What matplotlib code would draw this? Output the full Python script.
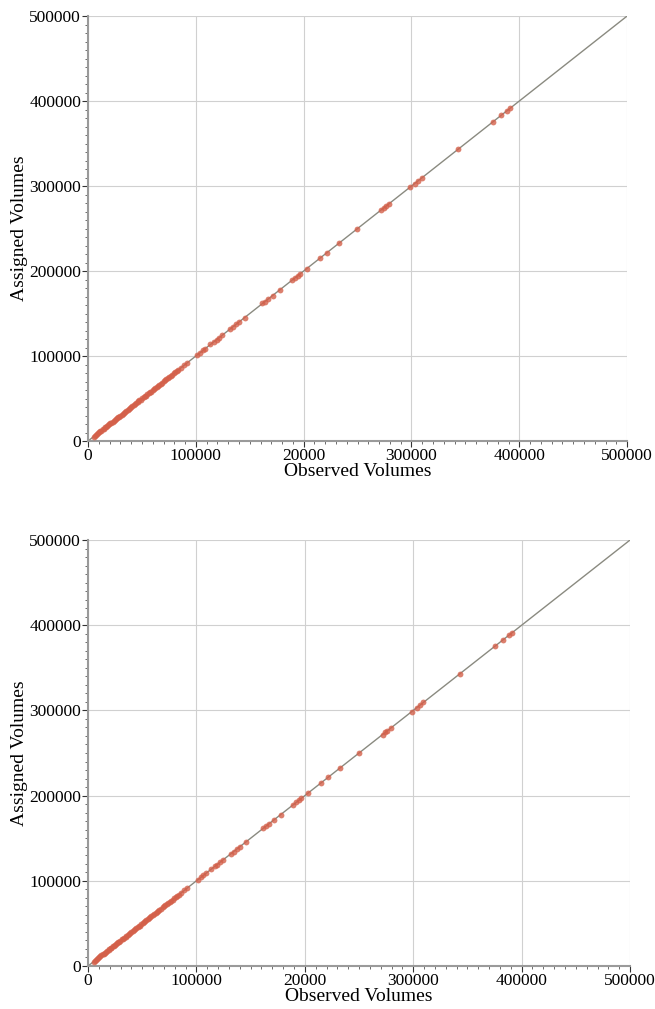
import matplotlib
matplotlib.use("Agg")
import matplotlib.pyplot as plt
from matplotlib.ticker import MultipleLocator

plt.rcParams["font.family"] = ["Liberation Serif", "DejaVu Serif"]

# observed link volumes (shared by both panels)
observed = [
    5200, 6100, 7400, 8300, 9100, 10200, 11500, 12300, 13800, 14600,
    15900, 16800, 17500, 18900, 19700, 20800, 21600, 22900, 23700, 24800,
    25500, 26900, 27800, 28600, 29900, 31200, 32100, 33400, 34600, 35300,
    36800, 37900, 38700, 39800, 41200, 42500, 43300, 44700, 45900, 46800,
    47600, 48900, 50300, 51700, 52800, 53600, 54900, 56200, 57400, 58300,
    59800, 61100, 62400, 63800, 64700, 65900, 67300, 68800, 70100, 71400,
    72600, 73900, 75200, 76800, 78100, 79600, 80900, 82300, 83700, 86200,
    88900, 91500, 101200, 103800, 106500, 108900, 113400, 116800, 119200, 121700,
    124300, 131800, 134200, 137600, 139900, 145300, 161800, 164200, 166900, 171300,
    177800, 189400, 192100, 194600, 196800, 202900, 214800, 221700, 232400, 249800,
    271800, 274300, 276100, 279200, 298400, 303100, 306200, 309400, 343200, 375600,
    382800, 388700, 391200,
]

# assigned volumes, first scenario
assigned_a = [
    5300, 6000, 7500, 8200, 9200, 10100, 11600, 12200, 13900, 14500,
    16000, 16700, 17600, 18800, 19800, 20700, 21700, 22800, 23800, 24700,
    25600, 26800, 27900, 28500, 30000, 31100, 32200, 33300, 34700, 35200,
    36900, 37800, 38800, 39700, 41300, 42400, 43400, 44600, 46000, 46700,
    47700, 48800, 50400, 51600, 52900, 53500, 55000, 56100, 57500, 58200,
    59900, 61000, 62500, 63700, 64800, 65800, 67400, 68700, 70200, 71300,
    72700, 73800, 75300, 76700, 78200, 79500, 81000, 82200, 83800, 86100,
    89000, 91400, 101400, 103600, 106700, 108700, 113600, 116600, 119400, 121500,
    124500, 131600, 134400, 137400, 140100, 145100, 162000, 164000, 167100, 171100,
    178000, 189200, 192300, 194400, 197000, 202700, 215000, 221500, 232600, 249600,
    272000, 274100, 276300, 279000, 298600, 302900, 306400, 309200, 343400, 375400,
    383000, 388500, 391400,
]

# assigned volumes, second scenario
assigned_b = [
    5250, 6150, 7350, 8350, 9050, 10250, 11450, 12350, 13750, 14650,
    15850, 16850, 17450, 18950, 19650, 20850, 21550, 22950, 23650, 24850,
    25450, 26950, 27750, 28650, 29850, 31250, 32050, 33450, 34550, 35350,
    36750, 37950, 38650, 39850, 41150, 42550, 43250, 44750, 45850, 46850,
    47550, 48950, 50250, 51750, 52750, 53650, 54850, 56250, 57350, 58350,
    59750, 61150, 62350, 63850, 64650, 65950, 67250, 68850, 70050, 71450,
    72550, 73950, 75150, 76850, 78050, 79650, 80850, 82350, 83650, 86250,
    88850, 91550, 101100, 103900, 106400, 109000, 113300, 116900, 119100, 121800,
    124200, 131900, 134100, 137700, 139800, 145400, 161700, 164300, 166800, 171400,
    177700, 189500, 192000, 194700, 196700, 203000, 214700, 221800, 232300, 249900,
    271700, 274400, 276000, 279300, 298300, 303200, 306100, 309500, 343100, 375700,
    382700, 388800, 391100,
]

ticks = [0, 100000, 200000, 300000, 400000, 500000]
xtick_labels = ["0", "100000", "20000", "300000", "400000", "500000"]
ytick_labels = ["0", "100000", "200000", "300000", "400000", "500000"]

fig = plt.figure(figsize=(6.55, 10.09), dpi=100)
boxes = [[0.1344, 0.5629, 0.823, 0.4212], [0.1344, 0.0426, 0.8275, 0.4222]]

for box, assigned in zip(boxes, [assigned_a, assigned_b]):
    ax = fig.add_axes(box)
    ax.plot([0, 500000], [0, 500000], color="#8a8a80", lw=1.0, zorder=2)
    ax.plot(observed, assigned, "o", color="#d4604a", ms=4.2, mew=0,
            alpha=0.8, zorder=3)
    ax.set_xlim(0, 500000)
    ax.set_ylim(0, 500000)
    ax.set_xticks(ticks)
    ax.set_xticklabels(xtick_labels)
    ax.set_yticks(ticks)
    ax.set_yticklabels(ytick_labels)
    ax.xaxis.set_minor_locator(MultipleLocator(10000))
    ax.yaxis.set_minor_locator(MultipleLocator(10000))
    ax.tick_params(which="major", length=4, width=0.8, color="#333333",
                   labelsize=12.5, pad=1)
    ax.tick_params(which="minor", length=2.5, width=0.6, color="#555555")
    ax.grid(True, which="major", color="#d0d0d0", lw=0.8, zorder=0)
    ax.set_axisbelow(True)
    for s in ["top", "right"]:
        ax.spines[s].set_visible(False)
    for s in ["left", "bottom"]:
        ax.spines[s].set_color("#9a9a9a")
        ax.spines[s].set_linewidth(1.5)
    ax.set_xlabel("Observed Volumes", fontsize=14, labelpad=-1)
    ax.set_ylabel("Assigned Volumes", fontsize=14, labelpad=1)

fig.savefig("out.png", dpi=100)
